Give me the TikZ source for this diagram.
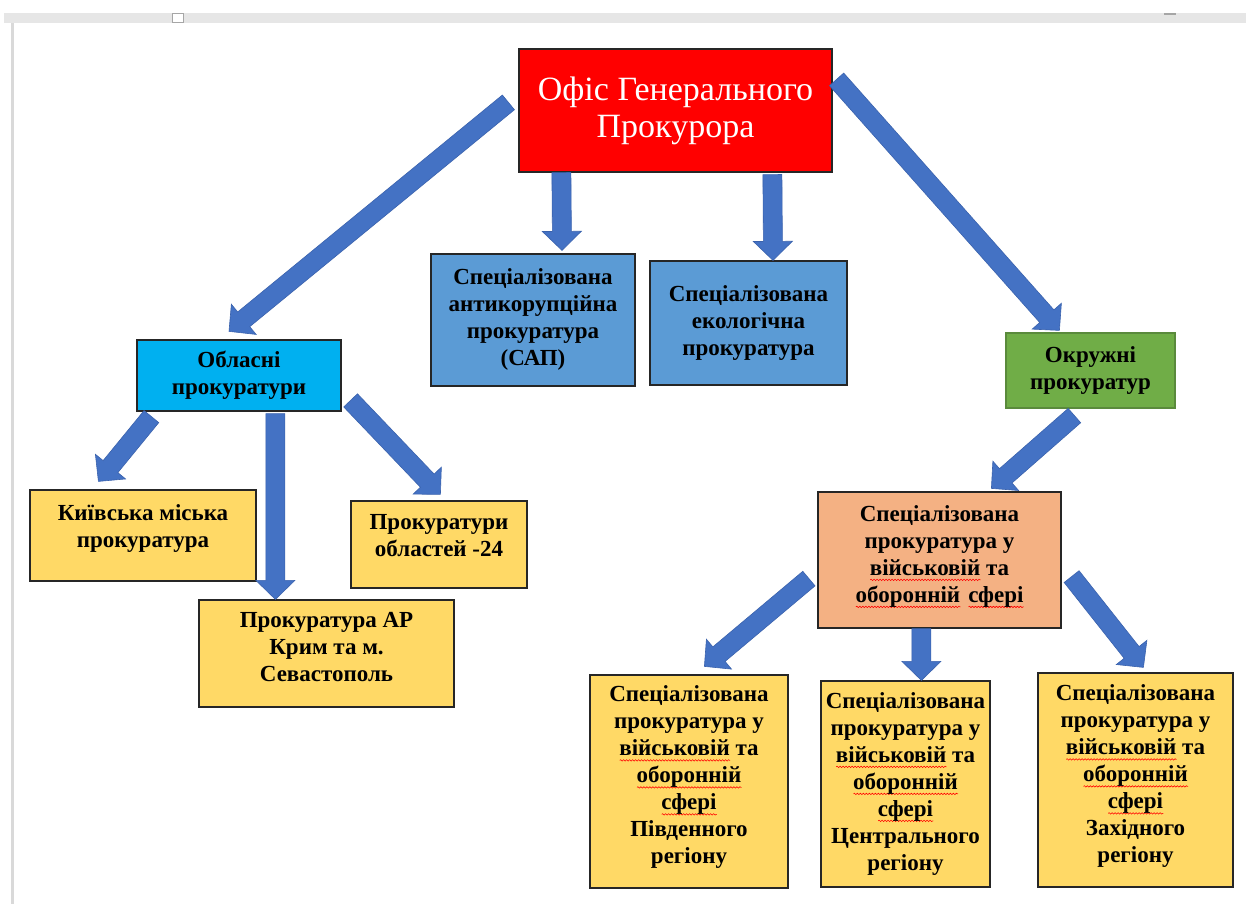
\documentclass[tikz,border=0pt]{standalone}
\usepackage{fontspec}
\setmainfont{Liberation Serif}
\usetikzlibrary{calc,decorations.pathmorphing}
\definecolor{ogpred}{HTML}{FF0000}
\definecolor{sapblue}{HTML}{5B9BD5}
\definecolor{oblblue}{HTML}{00B0F0}
\definecolor{okrgreen}{HTML}{70AD47}
\definecolor{okredge}{HTML}{5A8A3C}
\definecolor{ylw}{HTML}{FFD966}
\definecolor{orng}{HTML}{F4B183}
\definecolor{arblue}{HTML}{4472C4}
\definecolor{aredge}{HTML}{3A62AD}
\definecolor{edge}{HTML}{262626}
\definecolor{band}{HTML}{E6E6E6}
\newsavebox\spkbox
\newlength\spkwd
\newcommand\spk[1]{\sbox\spkbox{#1}\setlength\spkwd{\wd\spkbox}%
  \leavevmode\rlap{\tikz[baseline=0pt]{\draw[red, fill=none, line width=0.6pt, decorate,
    decoration={snake, amplitude=0.7pt, segment length=3pt}]
    (0pt,-4.5pt) -- (\spkwd,-4.5pt);}}\usebox\spkbox}
\newcommand\bt[2]{\raisebox{#1}[\height][\depth]{\begin{tabular}{@{}c@{}}#2\end{tabular}}}
\newcommand\barrow[2]{%
  \filldraw[fill=arblue, draw=aredge, line width=0.6pt, line join=miter]
  let \p1=($(#2)-(#1)$), \n1={atan2(\y1,\x1)}, \n2={veclen(\x1,\y1)-19},
      \n3={\n1+90}, \n4={\n1-90} in
  ($(#1)+(\n3:9.5pt)$) -- ($(#1)+(\n1:\n2)+(\n3:9.5pt)$) -- ($(#1)+(\n1:\n2)+(\n3:19.5pt)$)
  -- (#2) -- ($(#1)+(\n1:\n2)+(\n4:19.5pt)$) -- ($(#1)+(\n1:\n2)+(\n4:9.5pt)$)
  -- ($(#1)+(\n4:9.5pt)$) -- cycle;}
\tikzset{
  box/.style={draw=edge, line width=1.2pt, inner sep=0pt, text=black,
    font=\fontsize{23}{27}\selectfont\bfseries},
}
\begin{document}
\begin{tikzpicture}[x=1pt,y=1pt]
\useasboundingbox (0,0) rectangle (1246,904);
\fill[white] (0,0) rectangle (1246,904);
% window chrome
\fill[band] (4,881) rectangle (1246,891);
\fill[gray!30] (10.5,0) rectangle (13.5,881);
\draw[gray!70, line width=0.8pt, fill=white] (172,882) rectangle (183,891);
\draw[gray!70, line width=1.2pt] (1164,890) -- (1176,890);

% nodes
\node[draw=edge, line width=1.2pt, fill=ogpred, minimum width=313pt, minimum height=123pt,
  inner sep=0pt, font=\fontsize{34}{37}\selectfont, text=white, align=center]
  (ogp) at (675.5,793.5) {Офіс Генерального\\Прокурора};
\node[box, fill=sapblue, minimum width=204pt, minimum height=132pt] (sap) at (533,584)
  {\bt{0pt}{Спеціалізована\\антикорупційна\\прокуратура\\(САП)}};
\node[box, fill=sapblue, minimum width=197pt, minimum height=124pt] (eco) at (748.5,581)
  {\bt{0pt}{Спеціалізована\\екологічна\\прокуратура}};
\node[box, fill=oblblue, minimum width=204pt, minimum height=71pt] (obl) at (239,528.5)
  {\bt{0pt}{Обласні\\прокуратури}};
\node[box, draw=okredge, fill=okrgreen, minimum width=169pt, minimum height=75pt] (okr) at (1090.5,533.5)
  {\bt{0pt}{Окружні\\прокуратур}};
\node[box, fill=ylw, minimum width=226pt, minimum height=91pt] (kyiv) at (143,368.5)
  {\bt{7pt}{Київська міська\\прокуратура}};
\node[box, fill=ylw, minimum width=255pt, minimum height=107pt] (ar) at (326.5,250.5)
  {\bt{4pt}{Прокуратура АР\\Крим та м.\\Севастополь}};
\node[box, fill=ylw, minimum width=176pt, minimum height=87pt] (obl24) at (439,359.5)
  {\bt{7pt}{Прокуратури\\областей -24}};
\node[box, fill=orng, minimum width=243pt, minimum height=136pt] (mil) at (939.5,344)
  {\bt{3.5pt}{Спеціалізована\\прокуратура у\\\spk{військовій} та\\\spk{оборонній}\hspace{0.1em} \spk{сфері}}};
\node[box, fill=ylw, minimum width=198pt, minimum height=213pt] (b1) at (689,122.5)
  {\bt{4pt}{Спеціалізована\\прокуратура у\\\spk{військовій} та\\\spk{оборонній}\\\spk{сфері}\\Південного\\регіону}};
\node[box, fill=ylw, minimum width=169pt, minimum height=206pt] (b2) at (905.5,120)
  {\bt{0pt}{Спеціалізована\\прокуратура у\\\spk{військовій} та\\\spk{оборонній}\\\spk{сфері}\\Центрального\\регіону}};
\node[box, fill=ylw, minimum width=195pt, minimum height=214pt] (b3) at (1135.5,124)
  {\bt{3.5pt}{Спеціалізована\\прокуратура у\\\spk{військовій} та\\\spk{оборонній}\\\spk{сфері}\\Західного\\регіону}};

% arrow end points, relative to the nodes
\coordinate (a1t) at ([shift={(-10,-54)}]ogp.north west);
\coordinate (a1h) at ([shift={(-10,8)}]obl.north);
\coordinate (a2t) at ([shift={(43,0)}]ogp.south west);
\coordinate (a2h) at ([shift={(29,3)}]sap.north);
\coordinate (a3t) at ([shift={(254,-2)}]ogp.south west);
\coordinate (a3h) at ([shift={(24.5,0)}]eco.north);
\coordinate (a4t) at ([shift={(4,-31)}]ogp.north east);
\coordinate (a4h) at ([shift={(54,2)}]okr.north west);
\coordinate (a5t) at ([shift={(69,-7)}]okr.south west);
\coordinate (a5h) at ([shift={(174,3)}]mil.north west);
\coordinate (a6t) at ([shift={(15,-5)}]obl.south west);
\coordinate (a6h) at ([shift={(69,8)}]kyiv.north west);
\coordinate (a7t) at ([shift={(139,-2)}]obl.south west);
\coordinate (a7h) at ([shift={(77,0)}]ar.north west);
\coordinate (a8t) at ([shift={(9,-61)}]obl.north east);
\coordinate (a8h) at ([shift={(90,6)}]obl24.north west);
\coordinate (a9t) at ([shift={(-8.5,50)}]mil.south west);
\coordinate (a9h) at ([shift={(115,8)}]b1.north west);
\coordinate (a10t) at ([shift={(104,0)}]mil.south west);
\coordinate (a10h) at ([shift={(101,0)}]b2.north west);
\coordinate (a11t) at ([shift={(10,52)}]mil.south east);
\coordinate (a11h) at ([shift={(106,5)}]b3.north west);

\barrow{a1t}{a1h}
\barrow{a2t}{a2h}
\barrow{a3t}{a3h}
\barrow{a4t}{a4h}
\barrow{a5t}{a5h}
\barrow{a6t}{a6h}
\barrow{a7t}{a7h}
\barrow{a8t}{a8h}
\barrow{a9t}{a9h}
\barrow{a10t}{a10h}
\barrow{a11t}{a11h}
\end{tikzpicture}
\end{document}
